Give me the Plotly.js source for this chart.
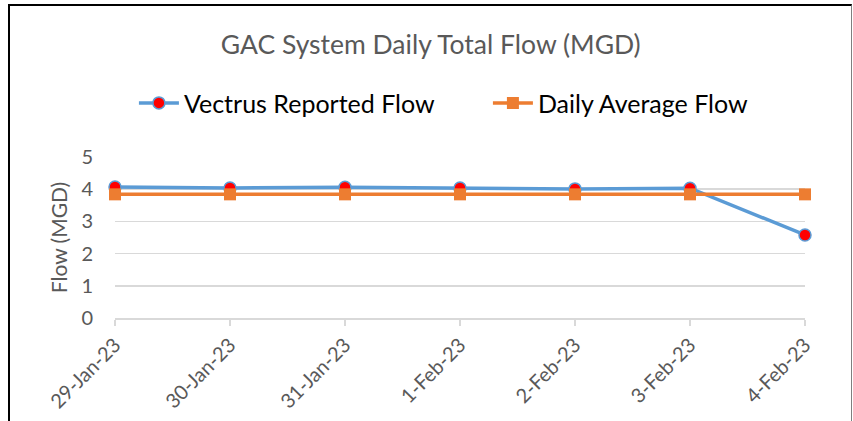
<!DOCTYPE html>
<html>
<head>
<meta charset="utf-8">
<script src="https://cdn.plot.ly/plotly-3.0.1.min.js"></script>
<style>
  html, body { margin: 0; padding: 0; background: #fff; }
  #wrap { position: relative; width: 853px; height: 421px; overflow: hidden; }
  #chart { position: absolute; left: 0; top: 0; width: 853px; height: 421px; }
  #frame { position: absolute; left: 8px; top: 4px; width: 841px; height: 440px;
           border-top: 2px solid #000; border-left: 2px solid #000; border-right: 1px solid #7f7f7f;
           pointer-events: none; }
</style>
</head>
<body>
<div id="wrap">
  <div id="chart"></div>
  <div id="frame"></div>
</div>
<script>
const dates = ["29-Jan-23", "30-Jan-23", "31-Jan-23", "1-Feb-23", "2-Feb-23", "3-Feb-23", "4-Feb-23"];
const reportedFlow = [4.07, 4.04, 4.06, 4.04, 4.01, 4.03, 2.58];
const averageFlow = [3.84, 3.84, 3.84, 3.84, 3.84, 3.84, 3.84];
const yTicks = [0, 1, 2, 3, 4, 5];

const FONT = "Lato, 'Open Sans', sans-serif";

const traces = [
  {
    x: dates, y: reportedFlow, type: "scatter", mode: "lines+markers",
    name: "Vectrus Reported Flow", legend: "legend",
    line: { color: "#5b9bd5", width: 3.5 },
    marker: { symbol: "circle", size: 12, color: "#ff0000", line: { color: "#5b9bd5", width: 1.5 } },
    cliponaxis: false
  },
  {
    x: dates, y: averageFlow, type: "scatter", mode: "lines+markers",
    name: "Daily Average Flow", legend: "legend2",
    line: { color: "#ed7d31", width: 3.5 },
    marker: { symbol: "square", size: 12, color: "#ed7d31" },
    cliponaxis: false
  }
];

const legendCommon = {
  orientation: "h", xref: "container", xanchor: "left",
  y: 0.755, yref: "container", yanchor: "middle",
  font: { family: FONT, size: 25, color: "#000000" },
  itemwidth: 40, bgcolor: "rgba(0,0,0,0)"
};

const layout = {
  width: 853, height: 421,
  margin: { l: 115, r: 48, t: 157, b: 103 },
  paper_bgcolor: "#ffffff", plot_bgcolor: "#ffffff",
  font: { family: FONT, color: "#595959" },
  showlegend: true,
  title: {
    text: "GAC System Daily Total Flow (MGD)",
    font: { family: FONT, size: 26.5, color: "#595959" },
    x: 0.505, xanchor: "center", xref: "container",
    y: 0.893, yanchor: "middle", yref: "container"
  },
  legend: Object.assign({}, legendCommon, { x: 0.157 }),
  legend2: Object.assign({}, legendCommon, { x: 0.572 }),
  xaxis: {
    type: "category",
    range: [0, dates.length - 1],
    showgrid: false,
    showline: true, linecolor: "#d9d9d9", linewidth: 1.5,
    ticks: "outside", ticklen: 6, tickcolor: "#d9d9d9", tickwidth: 1.5,
    tickangle: -45,
    tickfont: { family: FONT, size: 20, color: "#595959" },
    fixedrange: true, zeroline: false
  },
  yaxis: {
    range: [0, 5],
    tickvals: yTicks,
    ticktext: yTicks.map(String),
    showgrid: true, gridcolor: "#d9d9d9", gridwidth: 1.5,
    showline: false, zeroline: false,
    ticks: "", ticklabelstandoff: 21,
    tickfont: { family: FONT, size: 20, color: "#595959" },
    title: { text: "Flow (MGD)", font: { family: FONT, size: 21, color: "#595959" }, standoff: 8 },
    fixedrange: true
  }
};

Plotly.newPlot("chart", traces, layout, { displayModeBar: false, staticPlot: true });
</script>
</body>
</html>
